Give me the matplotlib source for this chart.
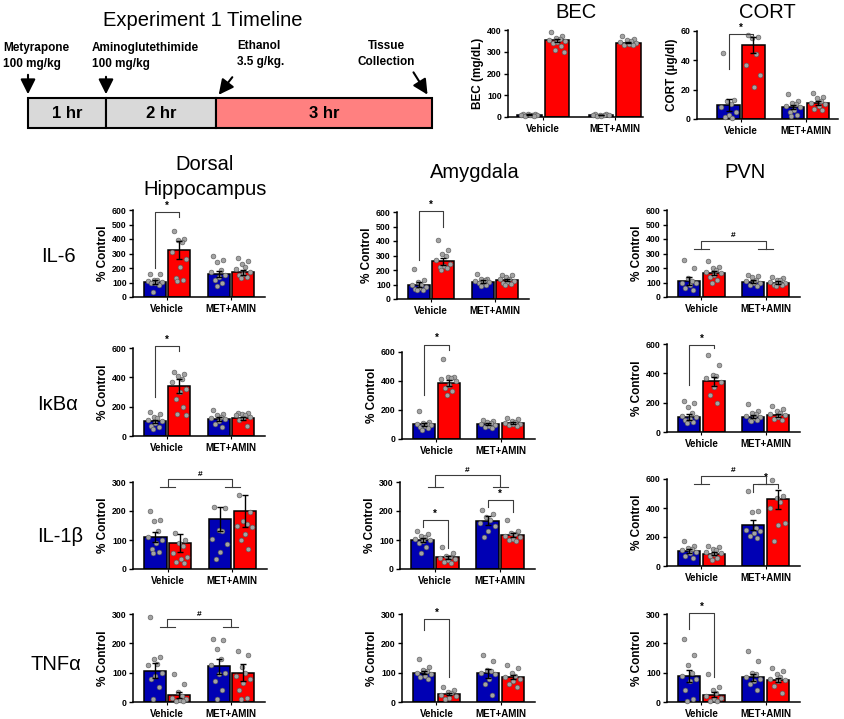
import numpy as np
import matplotlib.pyplot as plt
from matplotlib.patches import Rectangle

plt.rcParams['font.family'] = ['Liberation Sans', 'DejaVu Sans']

W, H = 844, 719
BLUE = '#0000b4'
RED = '#ff0000'
GRAY_PT = '#a3a3a3'
BR_COL = '#3c3c3c'

groups = ['Vehicle', 'MET+AMIN']
bar_pos = [0, 1, 2.6, 3.6]
grp_pos = [0.5, 3.1]
jit = [-0.22, 0.2, -0.05, 0.1, -0.3, 0.28, 0.02, -0.15, 0.15, -0.08, 0.25]

# ---- timeline ----
tl_segments = ['1 hr', '2 hr', '3 hr']
tl_edges = [28, 106, 216, 432]
tl_colors = ['#d9d9d9', '#d9d9d9', '#ff8080']

# ---- BEC / CORT ----
bec_mean = [10, 352, 9, 342]
bec_sem = [1.5, 8, 1.5, 4]
bec_pts = [[15, 13, 12, 10, 9, 8, 7, 6, 5],
           [392, 372, 365, 360, 355, 350, 345, 338, 325, 310, 300],
           [14, 12, 11, 10, 8, 7, 6, 5],
           [372, 360, 352, 348, 345, 340, 336, 332, 330]]

cort_mean = [9.5, 50.5, 8, 11]
cort_sem = [4, 5.5, 1.5, 1.5]
cort_pts = [[45, 13, 12, 10, 8, 5, 3, 1.5, 1],
            [57, 56, 55, 44, 37, 30, 22],
            [17, 12, 11, 10, 9, 8, 6, 5, 3, 2],
            [18, 15, 14, 12, 11, 10, 9, 7, 6]]

# ---- IL-6 ----
il6_dh_mean = [105, 325, 160, 170]
il6_dh_sem = [12, 60, 22, 18]
il6_dh_pts = [[160, 160, 120, 115, 110, 105, 100, 95, 80, 35],
              [455, 400, 395, 380, 310, 260, 210, 130, 120, 110],
              [280, 255, 240, 185, 170, 150, 140, 120, 100, 75],
              [270, 250, 230, 210, 195, 170, 160, 150, 140, 130]]

il6_amy_mean = [100, 260, 120, 130]
il6_amy_sem = [15, 25, 10, 8]
il6_amy_pts = [[205, 130, 120, 100, 95, 85, 75, 70, 65, 60],
               [405, 340, 310, 295, 270, 240, 230, 220, 215, 200],
               [175, 140, 135, 130, 125, 120, 115, 110, 95, 90],
               [165, 165, 150, 140, 135, 125, 120, 110, 105, 100]]

il6_pvn_mean = [112, 165, 105, 100]
il6_pvn_sem = [28, 15, 10, 7]
il6_pvn_pts = [[255, 200, 130, 110, 100, 95, 80, 60, 45],
               [250, 210, 200, 185, 175, 165, 155, 140, 120, 100],
               [150, 145, 135, 115, 110, 100, 95, 85, 75],
               [135, 130, 120, 115, 105, 100, 95, 85, 80, 75]]

# ---- IkBa ----
ikb_dh_mean = [100, 340, 115, 120]
ikb_dh_sem = [12, 50, 12, 8]
ikb_dh_pts = [[165, 150, 130, 120, 110, 100, 90, 70, 60, 50],
              [435, 425, 410, 390, 370, 320, 300, 250, 200, 150, 140],
              [180, 150, 140, 130, 125, 115, 100, 80, 60],
              [160, 155, 150, 145, 140, 130, 120, 110, 70]]

ikb_amy_mean = [100, 385, 102, 110]
ikb_amy_sem = [10, 20, 8, 8]
ikb_amy_pts = [[190, 120, 110, 105, 100, 95, 90, 80, 75, 65],
               [550, 430, 425, 420, 415, 400, 370, 350, 330, 300],
               [130, 125, 120, 110, 100, 95, 90, 80, 75],
               [145, 135, 125, 120, 110, 105, 100, 95, 90]]

ikb_pvn_mean = [105, 345, 105, 115]
ikb_pvn_sem = [20, 30, 10, 10]
ikb_pvn_pts = [[210, 200, 170, 130, 110, 100, 90, 80, 70, 60],
               [525, 455, 390, 380, 370, 340, 310, 250, 200],
               [190, 140, 130, 120, 110, 100, 95, 85, 80, 75],
               [175, 155, 140, 130, 120, 115, 100, 90, 80]]

# ---- IL-1b ----
il1_dh_mean = [110, 90, 172, 200]
il1_dh_sem = [18, 32, 42, 55]
il1_dh_pts = [[200, 170, 165, 130, 110, 100, 90, 70, 60, 55],
              [125, 100, 90, 80, 55, 40, 35, 25, 20],
              [215, 210, 135, 130, 105, 85, 60, 35],
              [255, 195, 165, 155, 150, 145, 120, 100, 70]]

il1_amy_mean = [100, 40, 167, 117]
il1_amy_sem = [8, 5, 15, 6]
il1_amy_pts = [[130, 120, 115, 110, 105, 100, 95, 90, 75, 55],
               [75, 55, 45, 40, 38, 35, 30, 25, 20],
               [205, 190, 180, 170, 160, 150, 130, 110],
               [170, 130, 125, 120, 115, 110, 105, 100, 95]]

il1_pvn_mean = [105, 85, 280, 460]
il1_pvn_sem = [12, 10, 35, 65]
il1_pvn_pts = [[175, 135, 125, 120, 110, 100, 90, 70, 55],
               [140, 130, 120, 110, 100, 90, 80, 70, 55, 40],
               [515, 380, 370, 260, 250, 240, 230, 210, 190],
               [590, 480, 470, 440, 400, 300, 280, 170]]

# ---- TNFa ----
tnf_dh_mean = [107, 25, 122, 100]
tnf_dh_sem = [25, 10, 25, 28]
tnf_dh_pts = [[290, 155, 145, 130, 125, 100, 90, 80, 50, 10],
              [95, 60, 35, 20, 15, 10, 8, 5, 3],
              [215, 210, 180, 145, 125, 100, 95, 70, 40, 10],
              [175, 160, 120, 100, 90, 80, 65, 40, 15, 10]]

tnf_amy_mean = [100, 27, 98, 85]
tnf_amy_sem = [5, 4, 15, 8]
tnf_amy_pts = [[145, 120, 110, 105, 100, 95, 90, 85, 80],
               [50, 40, 35, 30, 25, 20, 15, 10],
               [160, 140, 110, 105, 100, 95, 80, 60, 25],
               [125, 115, 100, 90, 85, 80, 70, 60, 50]]

tnf_pvn_mean = [88, 25, 85, 75]
tnf_pvn_sem = [20, 8, 12, 7]
tnf_pvn_pts = [[215, 160, 125, 100, 90, 80, 70, 40, 10, 5],
               [95, 50, 40, 30, 20, 15, 10, 5, 3],
               [175, 140, 100, 95, 85, 80, 70, 60, 40],
               [115, 105, 95, 85, 80, 75, 70, 55, 30]]

fig = plt.figure(figsize=(W / 100, H / 100), dpi=100)


def px_axes(x0, y0, x1, y1):
    return fig.add_axes([x0 / W, 1 - y1 / H, (x1 - x0) / W, (y1 - y0) / H])


def bar_panel(rect, means, sems, pts, ymax, ystep, ylabel='% Control',
              xlim=(-0.9, 4.5)):
    ax = px_axes(*rect)
    cols = [BLUE, RED, BLUE, RED]
    for i in range(4):
        ax.bar(bar_pos[i], means[i], width=0.9, color=cols[i],
               edgecolor='black', lw=1.1, zorder=2)
        p = np.array(pts[i])
        xs = bar_pos[i] + np.array([jit[k % len(jit)] for k in range(len(p))])
        ax.scatter(xs, p, s=12, c=GRAY_PT, edgecolors='#555555',
                   linewidths=0.4, zorder=4, clip_on=False)
        ax.errorbar(bar_pos[i], means[i], yerr=sems[i], color='black',
                    capsize=2.5, lw=1, capthick=1, zorder=5)
    ax.set_xlim(*xlim)
    ax.set_ylim(0, ymax)
    ax.set_yticks(np.arange(0, ymax + 1, ystep))
    ax.set_xticks(grp_pos)
    ax.set_xticklabels(groups, fontsize=7, fontweight='bold')
    for lab in ax.get_yticklabels():
        lab.set_fontsize(6.3)
        lab.set_fontweight('bold')
    ax.tick_params(axis='y', length=3, width=1, pad=1.5)
    ax.tick_params(axis='x', length=2, width=0.8, pad=3)
    for s in ['top', 'right']:
        ax.spines[s].set_visible(False)
    for s in ['left', 'bottom']:
        ax.spines[s].set_linewidth(1.1)
    ax.set_ylabel(ylabel, fontsize=8.5, fontweight='bold', labelpad=2)
    ax.patch.set_alpha(0)
    return ax


def star_br(ax, i, j, y, yl, yr, ymax):
    xi, xj = bar_pos[i], bar_pos[j]
    ax.plot([xi, xi, xj, xj], [yl, y, y, yr], color=BR_COL, lw=0.8,
            clip_on=False, zorder=6)
    ax.text((xi + xj) / 2, y + ymax * 0.015, '*', ha='center', va='bottom',
            fontsize=7, fontweight='bold', clip_on=False)


def hash_br(ax, y, yl, ymax):
    a, b = grp_pos
    ax.plot([a, a, b, b], [yl, y, y, yl], color=BR_COL, lw=0.8,
            clip_on=False, zorder=6)
    for c in (a, b):
        ax.plot([c - 0.3, c + 0.3], [yl, yl], color=BR_COL, lw=0.8,
                clip_on=False, zorder=6)
    ax.text((a + b) / 2, y + ymax * 0.015, '#', ha='center', va='bottom',
            fontsize=6, fontweight='bold', clip_on=False)


# timeline
tl = fig.add_axes([0, 1 - 140 / H, 440 / W, 140 / H])
tl.set_xlim(0, 440)
tl.set_ylim(140, 0)
tl.axis('off')
for k, lab in enumerate(tl_segments):
    x0, x1 = tl_edges[k], tl_edges[k + 1]
    tl.add_patch(Rectangle((x0, 98), x1 - x0, 30, facecolor=tl_colors[k],
                           edgecolor='black', lw=1.5))
    tl.text((x0 + x1) / 2, 113.5, lab, ha='center', va='center',
            fontsize=12, fontweight='bold')
tl.text(203, 20, 'Experiment 1 Timeline', ha='center', va='center', fontsize=14.5)
tl_font = dict(fontsize=8.5, fontweight='bold', va='center')
tl.text(3, 48, 'Metyrapone', ha='left', **tl_font)
tl.text(3, 64, '100 mg/kg', ha='left', **tl_font)
tl.text(92, 48, 'Aminoglutethimide', ha='left', **tl_font)
tl.text(92, 64, '100 mg/kg', ha='left', **tl_font)
tl.text(237, 46, 'Ethanol', ha='left', **tl_font)
tl.text(237, 62, '3.5 g/kg.', ha='left', **tl_font)
tl.text(386, 46, 'Tissue', ha='center', **tl_font)
tl.text(386, 62, 'Collection', ha='center', **tl_font)
arw = dict(arrowstyle='-|>,head_width=0.45,head_length=0.9', color='black', lw=1.5)
tl.annotate('', xy=(28, 97), xytext=(28, 72), arrowprops=arw)
tl.annotate('', xy=(106, 97), xytext=(106, 74), arrowprops=arw)
tl.annotate('', xy=(217, 97), xytext=(234, 75), arrowprops=arw)
tl.annotate('', xy=(429, 97), xytext=(412, 70), arrowprops=arw)

# BEC / CORT
ax = bar_panel((508, 30, 643, 117), bec_mean, bec_sem, bec_pts, 400, 100,
               ylabel='BEC (mg/dL)', xlim=(-0.78, 4.13))
fig.text(576 / W, 1 - 12 / H, 'BEC', ha='center', va='center', fontsize=14.5)
ax = bar_panel((697, 31, 838, 119), cort_mean, cort_sem, cort_pts, 60, 20,
               ylabel='CORT (\u00b5g/dl)', xlim=(-1.27, 4.4))
fig.text(767 / W, 1 - 12 / H, 'CORT', ha='center', va='center', fontsize=14.5)
star_br(ax, 0, 1, 58, 34, 57, 60)

# column titles and row labels
fig.text(205 / W, 1 - 177 / H, 'Dorsal\nHippocampus', ha='center', va='center',
         fontsize=14.5, linespacing=1.45)
fig.text(475 / W, 1 - 172 / H, 'Amygdala', ha='center', va='center', fontsize=14.5)
fig.text(745 / W, 1 - 172 / H, 'PVN', ha='center', va='center', fontsize=14.5)
for lab, xl, yc in [('IL-6', 41, 257), ('I\u03baB\u03b1', 37, 405),
                    ('IL-1\u03b2', 37, 536), ('TNF\u03b1', 31, 665)]:
    fig.text(xl / W, 1 - yc / H, lab, ha='left', va='center', fontsize=14.5)

# IL-6 row
ax = bar_panel((133, 210, 265, 297), il6_dh_mean, il6_dh_sem, il6_dh_pts, 600, 100)
star_br(ax, 0, 1, 584, 199, 554, 600)
ax = bar_panel((397, 212, 529, 299), il6_amy_mean, il6_amy_sem, il6_amy_pts, 600, 100)
star_br(ax, 0, 1, 605, 268, 497, 600)
ax = bar_panel((667, 210, 800, 297), il6_pvn_mean, il6_pvn_sem, il6_pvn_pts, 600, 100)
hash_br(ax, 389, 330, 600)

# IkBa row
ax = bar_panel((133, 348, 265, 436), ikb_dh_mean, ikb_dh_sem, ikb_dh_pts, 600, 200)
star_br(ax, 0, 1, 614, 266, 580, 600)
ax = bar_panel((402, 352, 535, 439), ikb_amy_mean, ikb_amy_sem, ikb_amy_pts, 600, 200)
star_br(ax, 0, 1, 651, 306, 611, 600)
ax = bar_panel((667, 344, 800, 432), ikb_pvn_mean, ikb_pvn_sem, ikb_pvn_pts, 600, 200)
star_br(ax, 0, 1, 593, 319, 570, 600)

# IL-1b row
ax = bar_panel((133, 482, 267, 569), il1_dh_mean, il1_dh_sem, il1_dh_pts, 300, 100)
hash_br(ax, 311, 283, 300)
ax = bar_panel((400, 482, 535, 569), il1_amy_mean, il1_amy_sem, il1_amy_pts, 300, 100)
hash_br(ax, 323, 283, 300)
star_br(ax, 0, 1, 169, 146, 71, 300)
star_br(ax, 2, 3, 237, 214, 197, 300)
ax = bar_panel((667, 479, 800, 566), il1_pvn_mean, il1_pvn_sem, il1_pvn_pts, 600, 200)
hash_br(ax, 623, 568, 600)
star_br(ax, 2, 3, 566, 513, 535, 600)

# TNFa row
ax = bar_panel((133, 614, 265, 702), tnf_dh_mean, tnf_dh_sem, tnf_dh_pts, 300, 100)
hash_br(ax, 283, 254, 300)
ax = bar_panel((402, 614, 535, 702), tnf_amy_mean, tnf_amy_sem, tnf_amy_pts, 300, 100)
star_br(ax, 0, 1, 283, 246, 84, 300)
ax = bar_panel((667, 614, 800, 702), tnf_pvn_mean, tnf_pvn_sem, tnf_pvn_pts, 300, 100)
star_br(ax, 0, 1, 303, 248, 84, 300)

fig.savefig('out.png', dpi=100)
